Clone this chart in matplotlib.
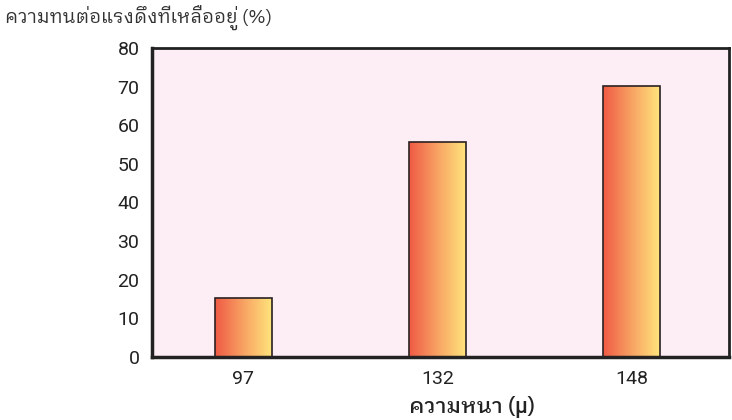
import numpy as np
import matplotlib
matplotlib.use("Agg")
import matplotlib.pyplot as plt
from matplotlib.colors import LinearSegmentedColormap

categories = ["97", "132", "148"]
values = [15.3, 55.7, 70.2]
y_ticks = [0, 10, 20, 30, 40, 50, 60, 70, 80]
y_title = "ความทนต่อแรงดึงที่เหลืออยู่ (%)"
x_title = "ความหนา (μ)"

thai_family = ['IBM Plex Sans Thai Looped', 'Noto Sans Thai Looped', 'Roboto', 'DejaVu Sans']
plt.rcParams['font.family'] = ['Roboto', 'Noto Sans Thai Looped', 'DejaVu Sans']

fig = plt.figure(figsize=(7.32, 4.2), dpi=100)
ax = fig.add_axes([152/732, 63/420, 577/732, 309/420])
ax.set_facecolor('#FDEDF4')

x = np.arange(len(categories))
bars = ax.bar(x, values, width=0.293, color='none', edgecolor='#2a2222', linewidth=1.2, zorder=3)
cmap = LinearSegmentedColormap.from_list('g', ['#EF5A45', '#F8A263', '#FFE57C'])
grad = np.linspace(0, 1, 256).reshape(1, -1)
for b in bars:
    x0, y0 = b.get_x(), b.get_y()
    w, h = b.get_width(), b.get_height()
    im = ax.imshow(grad, cmap=cmap, extent=[x0, x0 + w, y0, y0 + h], aspect='auto', zorder=2)
    im.set_clip_path(b)

ax.set_xlim(-0.468, 2.499)
ax.set_ylim(0, 80)
ax.set_xticks(x)
ax.set_xticklabels(categories)
ax.set_yticks(y_ticks)
ax.tick_params(axis='both', length=0, labelsize=14, colors='#222222')
ax.tick_params(axis='y', pad=9)
ax.tick_params(axis='x', pad=9)
for s in ['left', 'bottom']:
    ax.spines[s].set_linewidth(2.5)
    ax.spines[s].set_color('#222222')
for s in ['top', 'right']:
    ax.spines[s].set_linewidth(2)
    ax.spines[s].set_color('#222222')

ax.set_xlabel(x_title, fontsize=15.5, color='#222222', fontweight='medium', family=thai_family, va='center')
ax.xaxis.set_label_coords(0.555, -50/309)
fig.text(5/732, 1 - 18/420, y_title, fontsize=13.5, color='#333333', va='center', ha='left', family=thai_family)

fig.savefig('out.png', dpi=100)
